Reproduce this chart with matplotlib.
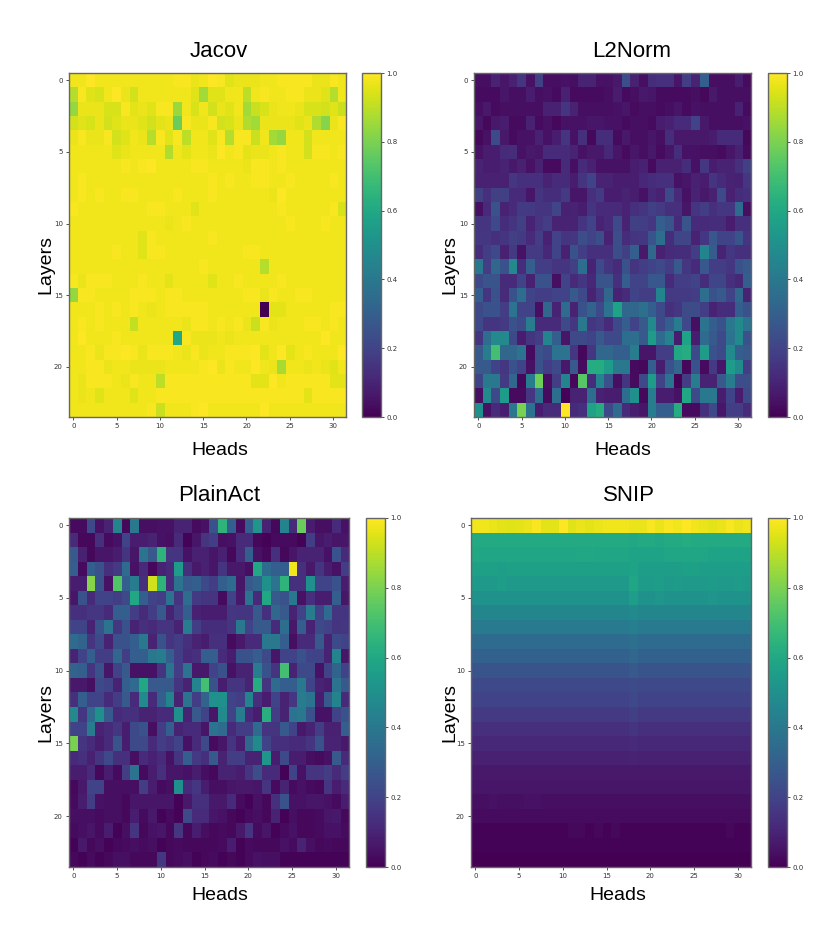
#! /usr/bin/env python3

import matplotlib
matplotlib.use("Agg")
import matplotlib.pyplot as plt
import numpy as np

plt.rcParams['font.family'] = ['DejaVu Sans']

# all scores are in percent of the colour range
jacov = [
    [98,98,100,98,98,98,98,98,98,98,98,98,99,99,97,98,100,99,95,97,97,97,98,98,99,99,99,99,97,97,99,98],
    [89,99,95,94,98,100,97,93,98,98,98,98,98,98,95,86,95,95,98,98,90,98,99,98,98,99,99,97,97,95,89,98],
    [84,97,97,97,94,94,99,96,97,95,99,99,85,98,94,98,93,97,95,98,86,92,94,97,98,98,97,94,94,93,95,92],
    [93,95,94,97,93,95,97,97,95,93,96,97,77,99,97,97,99,93,94,97,88,86,97,97,97,97,95,97,88,82,97,99],
    [97,99,97,97,99,93,95,98,97,89,99,95,99,90,98,98,95,99,89,99,99,92,98,86,84,98,98,93,98,98,98,98],
    [98,98,98,98,98,95,97,98,98,98,98,88,98,96,98,98,97,100,98,99,96,97,97,98,99,98,98,93,99,99,98,99],
    [98,98,98,98,98,98,99,98,99,100,98,98,98,98,99,99,98,98,98,98,97,99,99,98,99,98,98,98,98,98,98,98],
    [98,99,98,98,98,98,98,98,98,98,98,98,98,98,98,98,99,98,99,98,98,99,99,98,98,99,98,98,98,98,99,98],
    [98,99,98,99,98,98,99,99,98,98,98,98,99,98,98,98,99,98,98,98,98,98,98,97,100,98,98,98,98,98,98,98],
    [99,98,98,98,98,98,98,98,98,99,99,98,98,98,95,98,98,98,98,98,98,98,98,98,99,98,98,98,98,98,99,94],
    [98,98,98,98,98,98,98,98,98,98,98,97,98,99,98,98,98,98,98,98,98,98,98,98,98,99,98,98,98,99,98,98],
    [98,98,98,98,98,98,98,98,95,99,98,98,98,98,98,98,99,98,98,98,98,98,98,98,98,98,98,98,98,98,98,98],
    [98,98,98,98,98,99,98,98,95,99,99,98,98,98,98,98,98,98,98,98,99,99,98,98,98,98,98,98,98,98,98,98],
    [98,98,98,98,98,98,98,98,98,98,98,98,98,98,98,99,98,98,98,98,98,98,89,98,98,98,98,98,98,98,98,98],
    [99,97,99,99,99,98,98,98,99,98,98,96,98,98,98,98,95,98,98,99,98,98,98,98,99,98,98,98,98,98,98,98],
    [84,99,99,98,98,98,98,99,99,99,98,99,99,98,98,98,98,98,98,98,99,99,97,99,98,98,99,99,98,98,98,98],
    [98,98,98,99,98,99,98,99,98,97,98,99,99,99,99,99,98,98,98,98,98,98,0,96,96,98,98,98,98,98,99,99],
    [98,99,98,99,98,98,98,91,98,98,98,98,98,97,99,99,98,99,98,99,97,92,99,97,98,98,98,99,99,98,99,98],
    [98,100,98,98,98,99,98,98,98,98,98,98,60,99,97,97,97,98,97,98,98,98,98,98,98,98,98,98,98,100,98,98],
    [98,98,99,97,99,99,100,99,97,99,99,99,98,97,99,97,98,98,99,99,99,100,96,98,100,96,98,99,98,98,98,100],
    [98,98,99,99,97,98,98,97,97,97,97,98,98,98,98,99,100,97,99,98,98,100,98,97,87,98,98,97,98,97,95,98],
    [98,97,99,99,99,98,97,99,98,98,90,99,99,99,99,99,99,99,99,99,99,96,96,100,98,99,99,99,99,99,96,96],
    [98,97,98,95,98,98,98,95,98,98,99,99,99,99,99,99,99,99,99,99,99,99,99,99,99,99,99,96,99,99,99,99],
    [98,98,98,98,98,98,98,98,98,99,92,98,98,98,99,100,98,98,98,98,98,98,100,98,98,98,98,98,98,98,98,98],
]

l2norm = [
    [4,4,10,6,9,15,5,19,4,4,5,4,10,10,5,5,7,24,9,4,13,14,14,6,18,10,30,4,4,4,8,3],
    [3,3,3,6,4,4,8,4,5,3,9,3,3,3,3,4,8,3,4,7,6,3,3,3,3,4,2,7,4,4,4,4],
    [4,7,3,4,4,4,4,4,9,9,15,10,4,4,4,4,5,6,3,4,4,3,4,6,3,5,4,4,4,4,9,3],
    [6,2,7,8,3,3,9,3,5,2,5,5,5,6,6,5,5,3,4,4,3,8,9,12,12,20,7,4,4,4,4,5],
    [2,5,22,7,3,5,5,9,5,8,15,5,14,2,13,13,3,7,4,4,6,4,13,7,7,7,7,8,12,12,12,2],
    [5,8,8,12,13,5,7,6,12,12,12,10,5,7,7,11,6,3,6,4,7,3,6,13,5,5,4,4,3,6,9,3],
    [10,8,8,10,7,9,5,9,3,3,12,4,12,9,5,5,5,5,8,9,3,9,9,9,13,5,16,8,10,10,14,19],
    [9,9,9,9,16,14,14,14,10,12,12,8,15,20,10,10,8,8,8,11,13,14,14,5,6,9,8,15,12,10,9,16],
    [19,14,19,19,12,12,6,15,13,13,17,6,6,14,17,8,8,10,8,5,11,9,22,12,5,10,7,9,22,9,13,14],
    [4,12,25,10,12,17,17,15,15,21,9,10,8,15,12,12,12,10,14,15,19,17,14,14,6,15,18,14,16,16,35,4],
    [15,15,22,13,15,19,10,15,18,10,10,10,15,20,10,12,22,10,19,18,16,30,26,12,26,12,12,13,13,8,14,14],
    [16,16,14,15,19,17,12,18,9,20,15,16,24,20,24,10,24,13,15,16,26,36,13,21,21,10,16,27,20,20,26,15],
    [13,18,22,9,17,5,17,17,11,20,9,25,18,14,14,14,24,19,30,7,33,9,12,13,13,18,45,29,10,16,14,14],
    [40,18,33,25,47,13,30,18,18,15,15,19,36,10,22,15,12,25,15,18,20,22,18,28,16,12,27,18,18,16,25,28],
    [22,26,26,12,12,20,9,25,25,4,20,12,16,11,26,26,14,30,20,20,27,27,12,18,18,20,13,21,21,14,11,30],
    [30,15,25,12,25,36,20,18,18,20,20,28,22,10,17,33,10,12,20,18,18,45,17,17,17,18,36,25,28,20,33,10],
    [22,25,25,18,38,20,20,4,33,10,35,10,25,32,22,38,58,33,33,37,30,22,14,16,23,23,18,10,13,13,30,25],
    [22,15,15,17,25,22,42,12,12,12,22,16,40,16,18,12,22,30,20,28,48,22,30,42,22,4,38,30,25,40,48,38],
    [15,36,47,47,22,8,15,18,45,30,6,22,22,20,28,22,22,36,36,28,55,35,45,8,58,8,35,28,22,38,48,25],
    [28,42,70,33,33,38,3,25,22,38,38,16,2,16,33,33,30,30,42,6,6,18,18,60,62,22,55,25,22,48,30,28],
    [28,28,20,16,25,20,5,25,18,22,7,28,3,62,62,55,40,40,3,2,30,8,25,33,2,25,3,17,6,55,48,18],
    [20,40,40,17,33,2,42,78,4,18,45,2,74,13,45,25,4,15,3,22,55,20,38,1,18,42,10,10,28,42,24,24],
    [4,48,22,55,3,3,16,36,3,36,1,10,10,36,9,8,8,36,50,2,42,8,8,5,60,22,40,40,8,20,8,22],
    [50,5,12,8,40,80,38,8,12,12,100,12,14,58,62,22,35,12,8,6,42,30,30,62,3,3,14,22,6,18,18,12],
]

plainact = [
    [3,3,22,5,10,45,2,40,4,4,5,5,10,10,3,5,25,65,30,3,30,52,10,2,45,12,77,8,4,4,12,5],
    [12,2,2,14,3,5,20,8,8,10,5,4,12,1,6,15,18,4,5,12,12,2,1,3,3,3,1,18,6,8,6,6],
    [28,9,2,6,6,8,15,6,38,28,65,15,15,5,9,9,6,9,2,12,30,5,2,14,2,6,10,10,10,5,25,12],
    [30,3,30,25,14,17,35,5,12,2,10,12,55,14,7,9,6,15,7,7,4,60,35,30,30,98,14,7,15,8,5,18],
    [8,8,82,25,5,73,30,42,14,93,65,12,38,28,30,22,18,30,35,6,28,32,50,38,65,14,14,50,20,20,25,8],
    [6,25,12,20,20,18,22,60,30,20,18,38,15,36,17,15,15,3,20,7,38,12,60,28,25,40,5,14,8,8,30,6],
    [14,14,16,16,12,30,30,18,12,18,28,10,18,30,9,8,8,8,16,15,15,28,14,33,28,10,20,42,20,35,15,15],
    [20,20,10,25,38,16,25,10,14,12,15,15,10,42,18,13,13,13,15,40,20,28,28,12,36,7,30,10,22,20,15,16],
    [35,32,15,22,10,25,25,30,40,10,25,15,18,14,10,8,14,14,3,7,12,12,40,40,30,4,12,12,28,10,22,20],
    [10,20,30,18,18,33,18,30,30,40,42,30,18,12,14,30,30,12,8,25,25,30,22,6,20,20,25,20,20,10,45,6],
    [32,30,15,25,6,20,28,5,5,5,15,38,18,38,7,7,20,25,5,10,10,42,25,15,70,10,22,22,5,20,32,20],
    [7,7,4,22,20,10,30,35,60,28,28,28,15,10,45,70,25,8,15,15,10,62,15,35,30,30,40,20,10,8,38,28],
    [14,30,20,20,12,18,28,12,48,12,30,45,10,38,18,32,50,50,20,18,45,14,8,20,10,16,42,38,8,28,45,12],
    [48,16,35,50,28,12,14,14,10,10,12,12,50,10,28,20,6,48,20,42,12,8,63,18,10,38,40,25,5,5,20,25],
    [20,20,42,10,12,16,8,22,25,4,18,30,10,12,12,6,38,35,12,18,18,35,15,15,28,20,7,10,18,9,9,30],
    [80,15,12,8,12,26,8,22,22,12,18,15,20,5,12,22,3,6,15,8,33,48,20,14,14,12,12,15,25,10,10,7],
    [12,14,9,15,22,14,14,4,12,9,12,5,15,30,17,14,28,10,18,18,10,10,52,8,22,8,8,4,3,5,28,12],
    [8,8,12,2,8,3,18,38,3,8,14,6,6,5,8,4,2,10,10,8,15,24,12,12,1,20,5,15,15,18,12,18],
    [2,7,20,20,4,4,4,4,18,8,3,4,50,12,16,8,4,4,6,7,7,6,15,3,10,3,5,3,2,16,8,12],
    [3,8,18,5,4,4,2,6,6,6,6,6,1,7,14,14,7,7,12,3,1,5,2,14,25,5,5,6,6,5,3,8],
    [4,4,4,3,4,4,2,8,3,7,1,3,1,22,12,12,6,5,2,1,3,4,2,10,1,4,2,2,3,6,7,2],
    [3,4,6,3,8,1,4,15,2,5,6,2,16,2,8,4,2,3,2,7,15,3,6,1,3,5,2,2,3,5,5,3],
    [1,7,2,4,1,2,3,4,3,4,1,2,3,2,2,2,2,3,8,1,3,2,2,2,5,3,10,4,2,3,2,2],
    [2,1,3,1,2,4,4,2,2,2,16,2,3,4,1,2,3,1,2,1,3,5,4,4,1,1,1,1,1,1,1,1],
]

snip = [
    [98,98,97,96,95,96,97,99,96,96,100,95,97,96,97,98,98,98,97,97,99,97,99,98,100,98,97,96,97,99,97,98],
    [61,61,61,61,61,61,61,61,61,61,61,61,61,61,61,61,61,61,60,61,61,60,61,61,62,61,61,61,61,61,61,61],
    [60,59,59,59,59,59,59,59,59,59,59,59,60,60,59,59,59,59,58,58,58,58,59,59,59,59,59,58,58,58,58,58],
    [57,57,57,56,57,57,57,57,57,57,57,57,57,57,57,57,57,57,58,56,56,56,56,56,57,57,56,56,56,56,56,56],
    [54,54,54,56,54,54,54,54,54,54,54,54,54,54,54,54,54,54,59,55,55,56,54,55,54,54,54,55,54,54,55,54],
    [51,51,51,51,51,51,51,51,51,51,51,51,51,51,51,51,51,51,56,51,51,52,51,51,51,51,51,52,51,51,51,51],
    [46,46,46,46,46,46,46,46,46,46,46,46,46,46,46,46,46,46,48,46,46,46,46,46,46,46,46,46,46,46,46,46],
    [41,41,41,41,41,41,41,41,41,41,41,41,41,41,41,41,41,41,43,41,41,41,41,41,41,41,41,41,41,41,41,41],
    [35,35,35,35,35,35,35,35,35,35,35,35,35,35,35,35,35,35,37,35,35,35,35,35,35,35,35,35,35,35,35,35],
    [31,31,31,31,31,31,31,31,31,31,31,31,31,31,31,31,31,31,33,31,31,31,31,31,31,31,31,31,31,31,31,31],
    [26,26,26,26,26,26,26,26,26,26,26,26,26,26,26,26,26,26,28,26,26,26,26,26,26,26,26,26,26,26,26,26],
    [22,22,22,22,22,22,22,22,22,22,22,22,22,22,22,22,22,22,23,22,22,22,22,22,22,22,22,22,22,22,22,22],
    [20,20,20,20,20,20,20,20,20,20,20,20,20,20,20,20,20,20,22,20,20,20,20,20,20,20,20,20,20,20,20,20],
    [17,17,17,17,17,17,17,17,17,17,17,17,17,17,17,17,17,17,19,17,17,17,17,17,17,17,17,17,17,17,17,17],
    [14,14,14,14,14,14,14,14,14,14,14,14,14,14,14,14,14,14,15,14,14,14,14,14,14,14,14,14,14,14,14,14],
    [11,11,11,11,11,11,11,11,11,11,11,11,11,11,11,11,11,11,12,11,11,11,11,11,11,11,11,11,11,11,11,11],
    [9,9,9,9,9,9,9,9,9,9,9,9,9,9,9,9,9,9,10,9,9,9,9,9,9,9,9,9,9,9,9,9],
    [7,7,7,7,7,7,7,7,7,7,7,7,7,7,7,7,7,7,7,7,7,7,7,7,7,7,7,7,7,7,7,7],
    [6,6,6,6,6,6,6,6,6,6,6,6,6,6,6,6,6,6,6,6,6,6,6,6,6,6,6,6,6,6,6,6],
    [4,4,5,4,4,4,5,5,4,4,4,4,4,4,4,4,4,4,4,4,4,4,4,4,4,4,4,4,4,4,4,4],
    [3,3,3,3,3,3,3,3,3,3,3,3,3,3,3,3,3,3,3,3,3,3,3,3,3,3,3,3,3,3,3,3],
    [1,1,1,1,1,1,1,1,1,1,1,2,2,1,2,1,2,1,1,1,1,1,1,1,1,1,1,1,1,2,1,1],
    [1,1,1,1,1,1,1,1,1,1,1,1,1,1,1,1,1,1,1,1,1,1,1,1,1,1,1,1,1,1,1,1],
    [0,0,0,0,0,0,0,0,0,0,0,0,0,0,0,0,0,0,0,0,0,0,0,0,0,0,0,0,0,0,0,0],
]

titles = ['Jacov', 'L2Norm', 'PlainAct', 'SNIP']
scores = [jacov, l2norm, plainact, snip]
xticks = [0, 5, 10, 15, 20, 25, 30]
yticks = [0, 5, 10, 15, 20]
cticks = [0.0, 0.2, 0.4, 0.6, 0.8, 1.0]

W, H = 830, 941
# heatmap box and colourbar box in pixels: left, top, right, bottom
boxes = [
    ((69, 73, 346, 417), (362, 73, 381, 417)),
    ((474, 73, 751, 417), (768, 73, 787, 417)),
    ((69, 518, 349, 867), (366, 518, 385, 867)),
    ((471, 518, 751, 867), (768, 518, 787, 867)),
]
# text spots in pixels: title x, title baseline, heads x, heads baseline, layers x, layers y
spots = [
    (219, 57, 219.5, 455, 46, 264),
    (632, 57, 623, 455, 450, 264),
    (219, 501, 219.5, 900, 46, 712),
    (629, 501, 618, 900, 450, 712),
]
sans = 'Liberation Sans'
edge = '#666666'


def to_fig(box):
    l, t, r, b = box
    return [l / W, 1 - b / H, (r - l) / W, (b - t) / H]


def mkplot():
    fig = plt.figure()
    fig.set_size_inches(W / 100, H / 100)

    for title, data, (box, cbox), s in zip(titles, scores, boxes, spots):
        ax = fig.add_axes(to_fig(box))
        cax = fig.add_axes(to_fig(cbox))
        im = ax.imshow(np.array(data) / 100, cmap='viridis', vmin=0, vmax=1,
                       aspect='auto', interpolation='nearest')
        ax.set_xticks(xticks)
        ax.set_yticks(yticks)
        ax.tick_params(labelsize=5, length=2, width=0.6, pad=2.5,
                       color='#333333', labelcolor='#333333')
        cb = fig.colorbar(im, cax=cax)
        cb.set_ticks(cticks)
        cb.ax.tick_params(labelsize=5, length=2, width=0.6, pad=2,
                          color='#333333', labelcolor='#333333')
        for sp in list(ax.spines.values()) + list(cax.spines.values()):
            sp.set_color(edge)
            sp.set_linewidth(1.0)

        # the labels sit off centre from their axes, so they are placed by hand
        fig.text(s[0] / W, 1 - s[1] / H, title, fontsize=16, family=sans,
                 ha='center', va='baseline')
        fig.text(s[2] / W, 1 - s[3] / H, 'Heads', fontsize=14, family=sans,
                 ha='center', va='baseline')
        fig.text(s[4] / W, 1 - s[5] / H, 'Layers', fontsize=14, family=sans,
                 rotation=90, ha='center', va='center')

    fig.savefig('out.png', dpi=100)


if __name__ == "__main__":
    mkplot()
